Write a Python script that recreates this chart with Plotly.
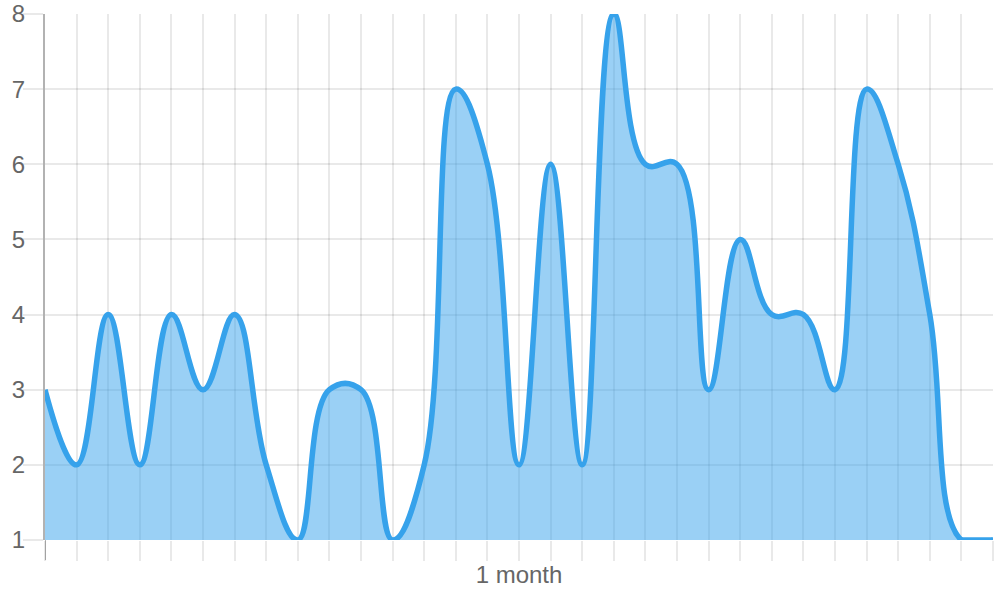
import plotly.graph_objects as go

# Data
days = list(range(1, 32))
values = [3, 2, 4, 2, 4, 3, 4, 2, 1, 3, 3, 1, 2, 7, 6, 2, 6, 2, 8, 6, 6, 3, 5, 4, 4, 3, 7, 6, 4, 1, 1]
tick_labels = ["" for _ in days]
tick_labels[15] = "1 month"
y_ticks = [1, 2, 3, 4, 5, 6, 7, 8]

LINE = "rgb(54,162,235)"
FILL = "rgba(54,162,235,0.5)"
GRID = "rgba(0,0,0,0.085)"
AXIS = "rgba(0,0,0,0.3)"
TEXT = "#666666"
FONT = "Liberation Sans, Arial, Helvetica, sans-serif"

fig = go.Figure()
fig.add_trace(go.Scatter(
    x=days, y=values, mode="lines",
    line=dict(color=LINE, width=5.5, shape="spline", smoothing=1.2),
    fill="tozeroy", fillcolor=FILL, cliponaxis=False,
    hoverinfo="skip", showlegend=False,
))
# final flat run along the bottom of the chart area (capped curve)
fig.add_trace(go.Scatter(
    x=days[-2:], y=values[-2:], mode="lines",
    line=dict(color=LINE, width=5.5), cliponaxis=False,
    hoverinfo="skip", showlegend=False,
))

fig.update_layout(
    width=1000, height=600,
    margin=dict(l=45, r=7, t=14, b=60),
    paper_bgcolor="white", plot_bgcolor="white",
    font=dict(family=FONT, size=24, color=TEXT),
    xaxis=dict(
        range=[days[0], days[-1]], tickvals=days, ticktext=tick_labels,
        showgrid=True, gridcolor=GRID, gridwidth=2,
        ticks="outside", ticklen=20, tickcolor=GRID, tickwidth=2,
        showline=False, zeroline=False, tickangle=0, automargin=False,
        ticklabelstandoff=-7,
        tickfont=dict(size=24, color=TEXT),
    ),
    yaxis=dict(
        range=[y_ticks[0], y_ticks[-1]], tickvals=y_ticks,
        showgrid=True, gridcolor=GRID, gridwidth=2,
        ticks="outside", ticklen=20, tickcolor=GRID, tickwidth=2,
        showline=True, linecolor=AXIS, linewidth=2,
        zeroline=False, automargin=False, ticklabelstandoff=-7,
        tickfont=dict(size=24, color=TEXT),
    ),
)

# darker tick extension under the left axis line
fig.add_shape(type="line", xref="x", yref="paper",
              x0=days[0], x1=days[0], y0=0, y1=-20 / 526,
              line=dict(color=AXIS, width=2), layer="below")

fig.write_html("out.html", config={"displayModeBar": False},
               post_script="document.body.style.margin='0';document.body.style.overflow='hidden';")
